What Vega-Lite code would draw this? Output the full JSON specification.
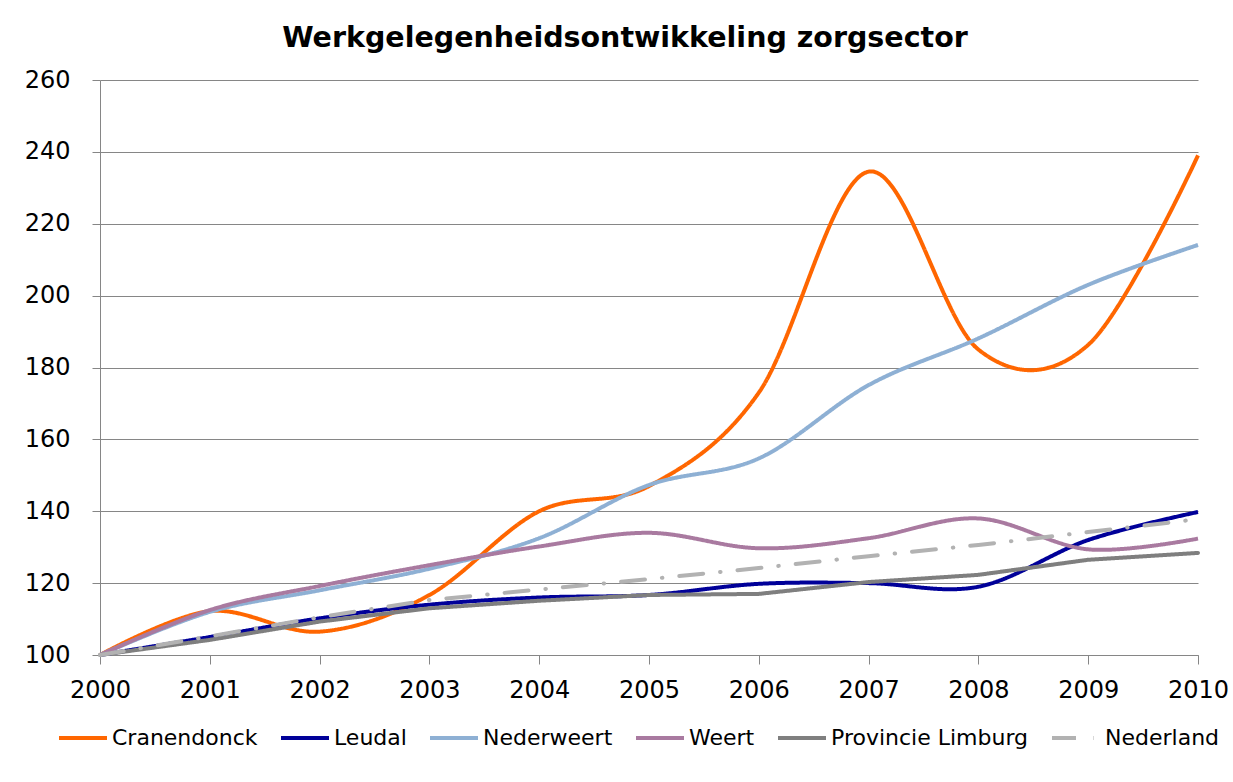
{
  "$schema": "https://vega.github.io/schema/vega-lite/v6.json",
  "width": 1098,
  "height": 575,
  "autosize": {"type": "none"},
  "padding": {"left": 100, "top": 80, "right": 35, "bottom": 127},
  "background": "white",
  "config": {"view": {"stroke": null}},
  "title": {"text": "Werkgelegenheidsontwikkeling zorgsector", "font": "DejaVu Sans", "fontWeight": "bold", "fontSize": 28.5, "color": "black", "anchor": "middle", "dx": -24, "offset": 16},
  "data": {"values": [
    {"jaar": 2000, "reeks": "Cranendonck", "index": 100},
    {"jaar": 2001, "reeks": "Cranendonck", "index": 112.2},
    {"jaar": 2002, "reeks": "Cranendonck", "index": 106.5},
    {"jaar": 2003, "reeks": "Cranendonck", "index": 116.7},
    {"jaar": 2004, "reeks": "Cranendonck", "index": 140},
    {"jaar": 2005, "reeks": "Cranendonck", "index": 147},
    {"jaar": 2006, "reeks": "Cranendonck", "index": 173},
    {"jaar": 2007, "reeks": "Cranendonck", "index": 234.5},
    {"jaar": 2008, "reeks": "Cranendonck", "index": 185},
    {"jaar": 2009, "reeks": "Cranendonck", "index": 186.3},
    {"jaar": 2010, "reeks": "Cranendonck", "index": 239},
    {"jaar": 2000, "reeks": "Leudal", "index": 100},
    {"jaar": 2001, "reeks": "Leudal", "index": 105},
    {"jaar": 2002, "reeks": "Leudal", "index": 110.2},
    {"jaar": 2003, "reeks": "Leudal", "index": 114},
    {"jaar": 2004, "reeks": "Leudal", "index": 116},
    {"jaar": 2005, "reeks": "Leudal", "index": 116.7},
    {"jaar": 2006, "reeks": "Leudal", "index": 119.8},
    {"jaar": 2007, "reeks": "Leudal", "index": 120},
    {"jaar": 2008, "reeks": "Leudal", "index": 119},
    {"jaar": 2009, "reeks": "Leudal", "index": 132},
    {"jaar": 2010, "reeks": "Leudal", "index": 139.8},
    {"jaar": 2000, "reeks": "Nederweert", "index": 100},
    {"jaar": 2001, "reeks": "Nederweert", "index": 112},
    {"jaar": 2002, "reeks": "Nederweert", "index": 118},
    {"jaar": 2003, "reeks": "Nederweert", "index": 124},
    {"jaar": 2004, "reeks": "Nederweert", "index": 132.5},
    {"jaar": 2005, "reeks": "Nederweert", "index": 147.3},
    {"jaar": 2006, "reeks": "Nederweert", "index": 154.7},
    {"jaar": 2007, "reeks": "Nederweert", "index": 175.1},
    {"jaar": 2008, "reeks": "Nederweert", "index": 188.1},
    {"jaar": 2009, "reeks": "Nederweert", "index": 203},
    {"jaar": 2010, "reeks": "Nederweert", "index": 214.1},
    {"jaar": 2000, "reeks": "Weert", "index": 100},
    {"jaar": 2001, "reeks": "Weert", "index": 112.5},
    {"jaar": 2002, "reeks": "Weert", "index": 119.2},
    {"jaar": 2003, "reeks": "Weert", "index": 125},
    {"jaar": 2004, "reeks": "Weert", "index": 130.2},
    {"jaar": 2005, "reeks": "Weert", "index": 134},
    {"jaar": 2006, "reeks": "Weert", "index": 129.7},
    {"jaar": 2007, "reeks": "Weert", "index": 132.5},
    {"jaar": 2008, "reeks": "Weert", "index": 138},
    {"jaar": 2009, "reeks": "Weert", "index": 129.4},
    {"jaar": 2010, "reeks": "Weert", "index": 132.4},
    {"jaar": 2000, "reeks": "Provincie Limburg", "index": 100},
    {"jaar": 2001, "reeks": "Provincie Limburg", "index": 104.2},
    {"jaar": 2002, "reeks": "Provincie Limburg", "index": 109.3},
    {"jaar": 2003, "reeks": "Provincie Limburg", "index": 113},
    {"jaar": 2004, "reeks": "Provincie Limburg", "index": 115.1},
    {"jaar": 2005, "reeks": "Provincie Limburg", "index": 116.7},
    {"jaar": 2006, "reeks": "Provincie Limburg", "index": 117},
    {"jaar": 2007, "reeks": "Provincie Limburg", "index": 120.3},
    {"jaar": 2008, "reeks": "Provincie Limburg", "index": 122.3},
    {"jaar": 2009, "reeks": "Provincie Limburg", "index": 126.5},
    {"jaar": 2010, "reeks": "Provincie Limburg", "index": 128.4},
    {"jaar": 2000, "reeks": "Nederland", "index": 100},
    {"jaar": 2001, "reeks": "Nederland", "index": 105.2},
    {"jaar": 2002, "reeks": "Nederland", "index": 110.5},
    {"jaar": 2003, "reeks": "Nederland", "index": 115.3},
    {"jaar": 2004, "reeks": "Nederland", "index": 118.2},
    {"jaar": 2005, "reeks": "Nederland", "index": 121.1},
    {"jaar": 2006, "reeks": "Nederland", "index": 124.2},
    {"jaar": 2007, "reeks": "Nederland", "index": 127.5},
    {"jaar": 2008, "reeks": "Nederland", "index": 130.6},
    {"jaar": 2009, "reeks": "Nederland", "index": 134.2},
    {"jaar": 2010, "reeks": "Nederland", "index": 137.8}
  ]},
  "encoding": {
    "x": {"field": "jaar", "type": "quantitative", "title": null,
      "scale": {"domain": [2000, 2010], "nice": false, "zero": false},
      "axis": {"values": [2000,2001,2002,2003,2004,2005,2006,2007,2008,2009,2010], "format": "d", "grid": false,
        "labelFont": "DejaVu Sans", "labelFontSize": 24, "labelColor": "black", "labelPadding": 14,
        "tickColor": "#868686", "tickSize": 9, "domainColor": "#868686", "labelFlush": false}},
    "y": {"field": "index", "type": "quantitative", "title": null,
      "scale": {"domain": [100, 260], "nice": false, "zero": false},
      "axis": {"values": [100,120,140,160,180,200,220,240,260], "grid": true, "gridColor": "#868686", "gridOpacity": 1,
        "labelFont": "DejaVu Sans", "labelFontSize": 24, "labelColor": "black", "labelPadding": 22,
        "tickColor": "#868686", "tickSize": 8, "domainColor": "#868686"}},
    "color": {"field": "reeks", "type": "nominal", "title": null,
      "scale": {"domain": ["Cranendonck","Leudal","Nederweert","Weert","Provincie Limburg","Nederland"],
        "range": ["#FF6600","#000099","#8EB0D4","#A97AA0","#7F7F7F","#B2B2B2"]},
      "legend": {"orient": "none", "legendX": -43, "legendY": 632, "direction": "horizontal", "symbolType": "stroke", "symbolSize": 2304, "symbolStrokeWidth": 4,
        "labelFont": "DejaVu Sans", "labelFontSize": 22, "labelColor": "black", "labelOffset": 3, "columnPadding": 15, "labelLimit": 400}},
    "strokeDash": {"field": "reeks", "type": "nominal", "title": null,
      "scale": {"domain": ["Cranendonck","Leudal","Nederweert","Weert","Provincie Limburg","Nederland"],
        "range": [[1,0],[1,0],[1,0],[1,0],[1,0],[24,17,0.5,17]]}}
  },
  "layer": [
    {"transform": [{"filter": {"field": "reeks", "oneOf": ["Cranendonck","Leudal","Nederweert","Weert"]}}],
     "mark": {"type": "line", "interpolate": "cardinal", "strokeWidth": 4}},
    {"transform": [{"filter": {"field": "reeks", "oneOf": ["Provincie Limburg","Nederland"]}}],
     "mark": {"type": "line", "interpolate": "linear", "strokeWidth": 4, "strokeCap": "round"}}
  ]
}
